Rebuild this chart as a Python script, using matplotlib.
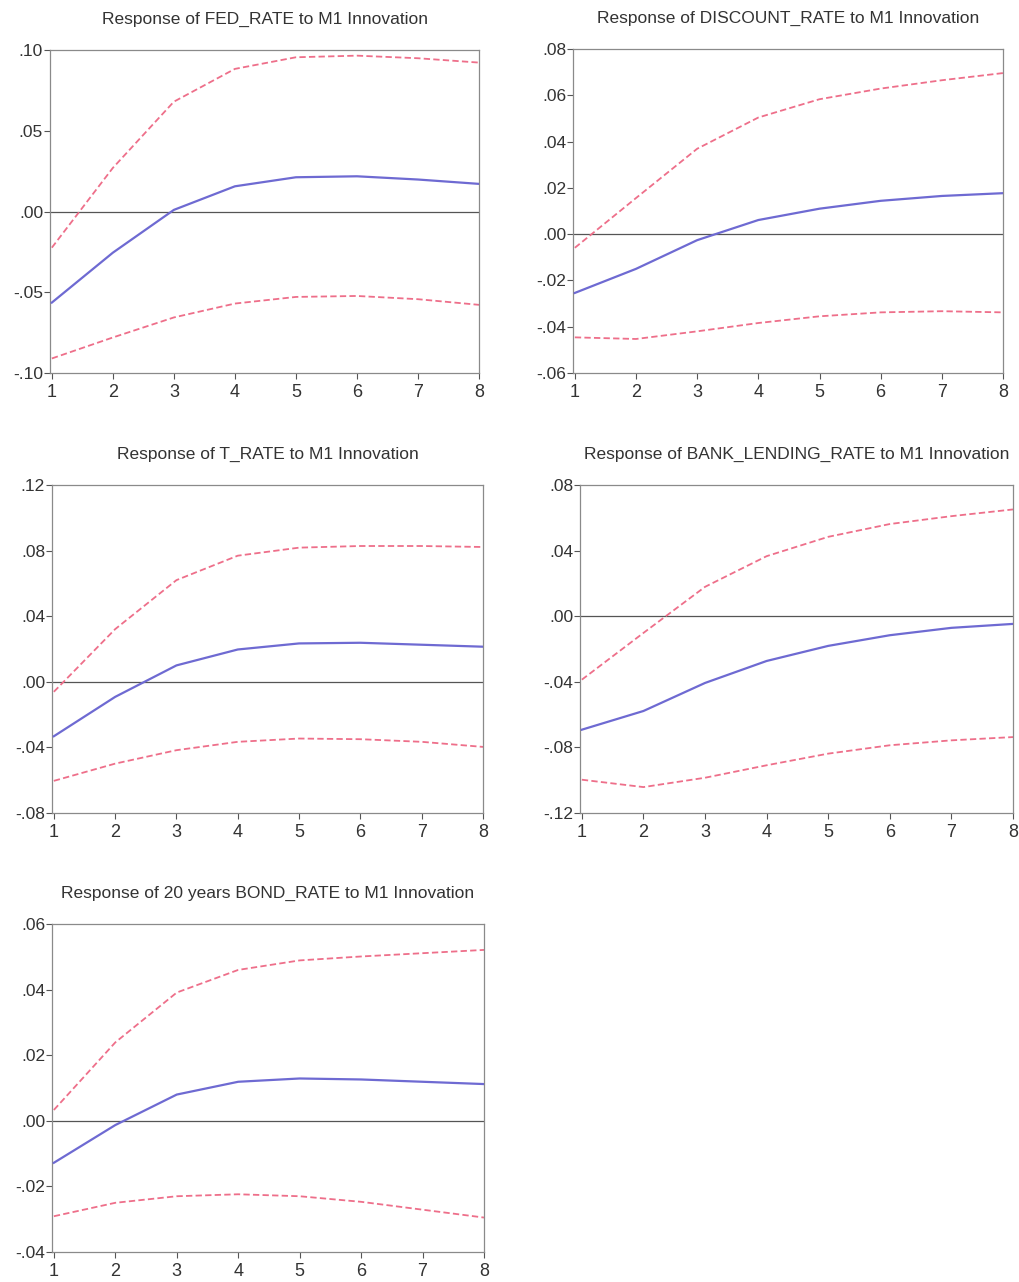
import matplotlib

matplotlib.use("Agg")
import matplotlib.pyplot as plt
from matplotlib.ticker import FuncFormatter

plt.rcParams["font.family"] = ["Liberation Sans", "DejaVu Sans"]

# Impulse response periods
periods = [1, 2, 3, 4, 5, 6, 7, 8]

# Response of FED_RATE
fed_mid = [-0.0564, -0.0255, 0.0010, 0.0156, 0.0212, 0.0218, 0.0198, 0.0171]
fed_up = [-0.0224, 0.0270, 0.0680, 0.0883, 0.0955, 0.0965, 0.0949, 0.0922]
fed_lo = [-0.0910, -0.0780, -0.0656, -0.0570, -0.0529, -0.0523, -0.0543, -0.0578]

# Response of DISCOUNT_RATE
disc_mid = [-0.0254, -0.0150, -0.0026, 0.0061, 0.0110, 0.0144, 0.0165, 0.0177]
disc_up = [-0.0059, 0.0156, 0.0369, 0.0504, 0.0583, 0.0629, 0.0665, 0.0696]
disc_lo = [-0.0446, -0.0453, -0.0420, -0.0384, -0.0355, -0.0338, -0.0333, -0.0338]

# Response of T_RATE
t_mid = [-0.0332, -0.0092, 0.0100, 0.0197, 0.0234, 0.0238, 0.0226, 0.0214]
t_up = [-0.0061, 0.0321, 0.0620, 0.0769, 0.0818, 0.0828, 0.0828, 0.0822]
t_lo = [-0.0604, -0.0499, -0.0417, -0.0366, -0.0346, -0.0350, -0.0366, -0.0397]

# Response of BANK_LENDING_RATE
bank_mid = [-0.0692, -0.0578, -0.0407, -0.0273, -0.0181, -0.0116, -0.0071, -0.0047]
bank_up = [-0.0387, -0.0102, 0.0179, 0.0366, 0.0484, 0.0562, 0.0610, 0.0651]
bank_lo = [-0.0997, -0.1042, -0.0985, -0.0909, -0.0838, -0.0787, -0.0757, -0.0737]

# Response of 20 years BOND_RATE
bond_mid = [-0.0128, -0.0013, 0.0080, 0.0119, 0.0129, 0.0126, 0.0119, 0.0112]
bond_up = [0.0033, 0.0239, 0.0391, 0.0460, 0.0489, 0.0501, 0.0511, 0.0521]
bond_lo = [-0.0291, -0.0250, -0.0230, -0.0224, -0.0230, -0.0247, -0.0271, -0.0295]

titles = [
    "Response of FED_RATE to M1 Innovation",
    "Response of DISCOUNT_RATE to M1 Innovation",
    "Response of T_RATE to M1 Innovation",
    "Response of BANK_LENDING_RATE to M1 Innovation",
    "Response of 20 years BOND_RATE to M1 Innovation",
]
series = [
    (fed_mid, fed_up, fed_lo),
    (disc_mid, disc_up, disc_lo),
    (t_mid, t_up, t_lo),
    (bank_mid, bank_up, bank_lo),
    (bond_mid, bond_up, bond_lo),
]
yticks = [
    [-0.10, -0.05, 0.00, 0.05, 0.10],
    [-0.06, -0.04, -0.02, 0.00, 0.02, 0.04, 0.06, 0.08],
    [-0.08, -0.04, 0.00, 0.04, 0.08, 0.12],
    [-0.12, -0.08, -0.04, 0.00, 0.04, 0.08],
    [-0.04, -0.02, 0.00, 0.02, 0.04, 0.06],
]

W, H = 1019, 1282
# panel boxes in pixels: left, top, right, bottom
boxes = [
    (50, 50, 479, 373),
    (573, 49, 1003, 373),
    (52, 485, 483, 813),
    (580, 485, 1013, 813),
    (52, 924, 484, 1252),
]


def fmt(v, pos):
    s = f"{v:.2f}"
    return s.replace("0.", ".", 1)


fig = plt.figure(figsize=(W / 100, H / 100), dpi=100)

for (l, t, r, b), title, (mid, up, lo), yt in zip(boxes, titles, series, yticks):
    ax = fig.add_axes([l / W, 1 - b / H, (r - l) / W, (b - t) / H])
    ax.axhline(0, color="#555555", lw=0.9, zorder=1)
    ax.plot(periods, up, color="#ee6f8a", lw=1.3, ls=(0, (3.5, 1.8)), zorder=2)
    ax.plot(periods, lo, color="#ee6f8a", lw=1.3, ls=(0, (3.5, 1.8)), zorder=2)
    ax.plot(periods, mid, color="#6e6ad2", lw=1.6, zorder=3)
    ax.set_xlim(0.97, 8)
    ax.set_ylim(yt[0], yt[-1])
    ax.set_xticks(periods)
    ax.set_yticks(yt)
    ax.yaxis.set_major_formatter(FuncFormatter(fmt))
    for sp in ax.spines.values():
        sp.set_color("#8a8a8a")
        sp.set_linewidth(0.9)
    ax.tick_params(axis="both", direction="out", length=4, width=0.8,
                   color="#555555", labelcolor="#333333")
    ax.tick_params(axis="y", labelsize=12.5, pad=1)
    ax.tick_params(axis="x", labelsize=13, pad=4)
    ax.set_title(title, fontsize=12.5, color="#333333", pad=19)

fig.savefig("out.png", dpi=100, facecolor="white")
